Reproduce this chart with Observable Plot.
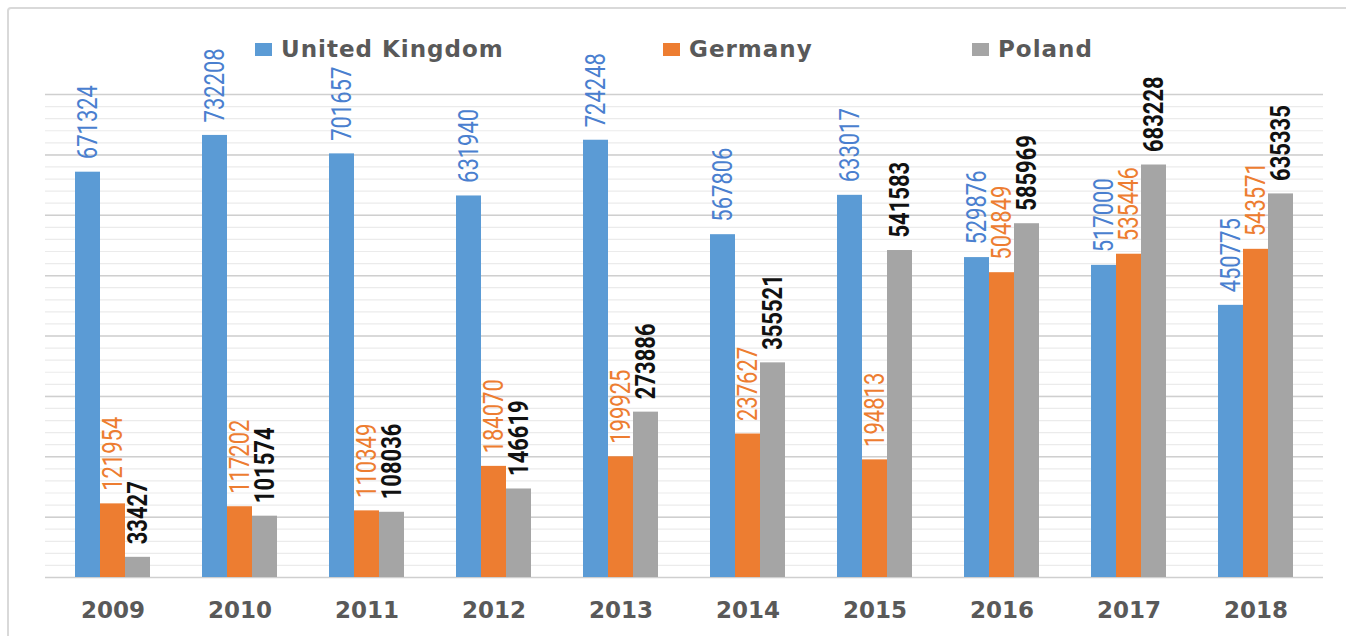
<!DOCTYPE html>
<html><head><meta charset="utf-8">
<script src="https://cdn.jsdelivr.net/npm/d3@7"></script>
<script src="https://cdn.jsdelivr.net/npm/@observablehq/plot@0.6"></script>
<style>
body{margin:0;background:#fff;}
#wrap{position:relative;width:1346px;height:636px;overflow:hidden;background:#fff;}
#frame{position:absolute;left:7px;top:7px;width:1400px;height:700px;border:2px solid #d9d9d9;border-radius:4px;box-sizing:border-box;}
#grid,#bars{position:absolute;left:0;top:0;}
.legend{position:absolute;top:36px;font-family:"DejaVu Sans";font-weight:bold;font-size:23px;letter-spacing:1px;color:#595959;display:flex;align-items:center;white-space:nowrap;}
.sw{display:inline-block;width:17px;height:13px;margin-right:9px;}
</style></head>
<body>
<div id="wrap"><div id="frame"></div><div id="grid"></div><div id="bars"></div></div>
<script>
const years = ["2009","2010","2011","2012","2013","2014","2015","2016","2017","2018"];
const countries = ["United Kingdom","Germany","Poland"];
const ukValues = [671324,732208,701657,631940,724248,567806,633017,529876,517000,450775];
const germanyValues = [121954,117202,110349,184070,199925,237627,194813,504849,535446,543571];
const polandValues = [33427,101574,108036,146619,273886,355521,541583,585969,683228,635335];
const barColors = ["#5B9BD5","#ED7D31","#A5A5A5"];
const labelColors = ["#4A7FCF","#ED7D31","#111111"];
const labelWeights = ["normal","normal","bold"];
const legendLeft = [255,663,972];
const majorTicks = d3.range(0, 800001, 100000);
const minorTicks = d3.range(0, 800001, 20000);

const seriesValues = [ukValues, germanyValues, polandValues];
const data = [];
years.forEach((y,i)=>countries.forEach((c,j)=>data.push({year:y,country:c,value:seriesValues[j][i]})));

const M = {width:1346,height:636,marginLeft:45,marginRight:23,marginTop:94,marginBottom:59};

const grid = Plot.plot({
  ...M,
  style:{background:"transparent"},
  y:{domain:[0,800000],axis:null},
  marks:[
    Plot.ruleY(minorTicks,{stroke:"#ebebeb",strokeWidth:1.2}),
    Plot.ruleY(majorTicks,{stroke:"#cfcfcf",strokeWidth:1.5})
  ]
});
document.getElementById("grid").appendChild(grid);

const chart = Plot.plot({
  ...M,
  style:{background:"transparent",fontFamily:"DejaVu Sans",fontSize:"23px",fontWeight:"bold",color:"#595959"},
  fx:{domain:years,paddingInner:0.39,paddingOuter:0.195,label:null,tickSize:0,tickPadding:24,axis:"bottom"},
  x:{domain:countries,padding:0,axis:null},
  y:{domain:[0,800000],axis:null},
  color:{domain:countries,range:barColors},
  marks:[
    Plot.barY(data,{fx:"year",x:"country",y:"value",fill:"country"}),
    ...countries.map((c,i)=>Plot.text(data.filter(d=>d.country===c),{
      fx:"year",x:"country",y:"value",text:d=>String(d.value),
      rotate:-90,textAnchor:"start",lineAnchor:"middle",dy:-13,
      fill:labelColors[i],fontWeight:labelWeights[i],fontSize:22,fontFamily:"Roboto",
      className:"vlabel"
    }))
  ]
});
document.getElementById("bars").appendChild(chart);
// stretch the rotated value labels horizontally (condensed look of the original font)
d3.select(chart).selectAll(".vlabel text").each(function(){
  const t = this.getAttribute("transform") || "";
  this.setAttribute("transform", t + " scale(1,1.28)");
});

const wrap = document.getElementById("wrap");
countries.forEach((c,i)=>{
  const el = document.createElement("div");
  el.className = "legend";
  el.style.left = legendLeft[i] + "px";
  const sw = document.createElement("span");
  sw.className = "sw";
  sw.style.background = barColors[i];
  el.appendChild(sw);
  el.appendChild(document.createTextNode(c));
  wrap.appendChild(el);
});
</script>
</body></html>
